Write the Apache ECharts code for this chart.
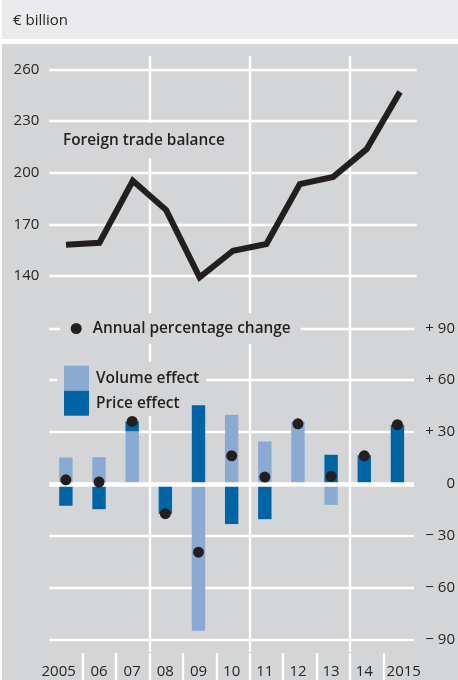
<!DOCTYPE html>
<html><head><meta charset="utf-8">
<script src="https://cdn.jsdelivr.net/npm/echarts@6/dist/echarts.min.js"></script>
<style>
html,body{margin:0;padding:0;background:#fff;}
#wrap{position:relative;width:458px;height:680px;overflow:hidden;}
#hdr{position:absolute;left:2px;top:0;width:456px;height:39px;background:#ebebed;}
#plot{position:absolute;left:2px;top:44px;width:456px;height:636px;background:#d4d5d7;}
#chart{position:absolute;left:0;top:0;width:458px;height:680px;}
</style></head>
<body><div id="wrap"><div id="hdr"></div><div id="plot"></div><div id="chart"></div></div>
<script>
// ---- data ----
const categories = ['2005','06','07','08','09','10','11','12','13','14','2015'];
const tradeBalance = [158.2, 159.3, 195.3, 178.3, 139.2, 154.7, 158.6, 193.4, 197.6, 213.7, 247.0];
const volumeEffect = [15.2, 15.4, 30.3, 0, -85.0, 40.0, 24.5, 36.1, -12.2, 0, 0];
const priceEffect = [-12.7, -14.7, 5.8, -17.5, 45.5, -23.3, -20.5, -1.4, 16.8, 16.5, 34.2];
const annualChange = [2.3, 1.0, 36.1, -17.3, -39.6, 16.2, 3.9, 34.7, 4.3, 16.2, 34.2];
const leftTicks = [140, 170, 200, 230, 260];
const rightTicks = [-90, -60, -30, 0, 30, 60, 90];

// ---- styling ----
const FONT = '"Open Sans", "Noto Sans", sans-serif';
const TXT = '#262626';
const DARK = '#231f20';
const BG = '#d4d5d7';
const GL = 49.3, GR = 41.3;
const GRIDLINE = {color: '#ffffff', width: 2.4};
const LEG_FONT = {fontSize: 15.4, fontWeight: 600, color: DARK, fontFamily: FONT};

const catData = categories.map((c, i) => {
  if (i === 0) return {value: c, textStyle: {padding: [0, 14.4, 0, 0]}};
  if (i === categories.length - 1) return {value: c, textStyle: {padding: [0, 0, 0, 12.6]}};
  return c;
});

const chart = echarts.init(document.getElementById('chart'), null, {renderer: 'canvas'});
const hidden = {axisLine: {show: false}, axisTick: {show: false}, axisLabel: {show: false}};

const option = {
  animation: false,
  backgroundColor: 'transparent',
  textStyle: {fontFamily: FONT},
  title: [
    {text: '€ billion', left: 13, top: 13, padding: 0,
     textStyle: {fontSize: 15, fontWeight: 'normal', color: TXT, fontFamily: FONT}},
    {text: 'Foreign trade balance', left: 55, top: 123, padding: [10, 8, 10, 8], backgroundColor: BG, z: 1,
     textStyle: LEG_FONT}
  ],
  legend: [
    {data: ['Annual percentage change'], left: 60, top: 313, padding: [8, 10, 8, 10.7], z: 1,
     backgroundColor: BG, icon: 'circle', itemWidth: 11, itemHeight: 11, selectedMode: false,
     textStyle: Object.assign({padding: [0, 0, 0, 6]}, LEG_FONT)},
    {data: ['Volume effect', 'Price effect'], orient: 'vertical', left: 57, top: 362, z: 1,
     padding: [3.7, 7, 0, 7], itemGap: 0, itemWidth: 25, itemHeight: 25, icon: 'rect',
     backgroundColor: BG, selectedMode: false,
     textStyle: Object.assign({padding: [0, 0, 0, 2]}, LEG_FONT)}
  ],
  grid: [
    {left: GL, right: GR, top: 69.5, height: 206.5},
    {left: GL, right: GR, top: 328.3, height: 311},
    {left: GL, right: GR, top: 56, height: 596},
    {left: GL, right: GR, top: 653, height: 27}
  ],
  xAxis: [
    Object.assign({type: 'category', gridIndex: 0, data: categories, splitLine: {show: false}}, hidden),
    {type: 'category', gridIndex: 1, data: catData, axisLine: {show: false}, axisTick: {show: false},
     splitLine: {show: false},
     axisLabel: {fontSize: 15, color: TXT, margin: 25, fontFamily: FONT, interval: 0}},
    Object.assign({type: 'value', gridIndex: 2, min: 0, max: 11, interval: 3,
     splitLine: {show: true, showMinLine: false, showMaxLine: false, lineStyle: GRIDLINE}}, hidden),
    Object.assign({type: 'value', gridIndex: 3, min: 0, max: 11, interval: 1,
     splitLine: {show: true, showMinLine: false, showMaxLine: false, lineStyle: GRIDLINE}}, hidden)
  ],
  yAxis: [
    {type: 'value', gridIndex: 0, position: 'left', min: leftTicks[0], max: leftTicks[leftTicks.length - 1], interval: 30,
     axisLine: {show: false}, axisTick: {show: false},
     axisLabel: {fontSize: 15, color: TXT, margin: 10, fontFamily: FONT},
     splitLine: {show: true, lineStyle: GRIDLINE}},
    {type: 'value', gridIndex: 1, position: 'right', min: rightTicks[0], max: rightTicks[rightTicks.length - 1], interval: 30,
     axisLine: {show: false}, axisTick: {show: false},
     axisLabel: {fontSize: 15, color: TXT, margin: 41, align: 'right', fontFamily: FONT,
       formatter: v => v > 0 ? '+ ' + v : (v < 0 ? '\u2212 ' + (-v) : '0')},
     splitLine: {show: true, lineStyle: GRIDLINE}},
    Object.assign({type: 'value', gridIndex: 2, min: 0, max: 1, splitLine: {show: false}}, hidden),
    Object.assign({type: 'value', gridIndex: 3, min: 0, max: 1, splitLine: {show: false}}, hidden)
  ],
  series: [
    {name: 'Foreign trade balance', type: 'line', xAxisIndex: 0, yAxisIndex: 0, data: tradeBalance,
     symbol: 'none', clip: false, z: 3,
     lineStyle: {color: DARK, width: 6, join: 'miter', cap: 'butt'}},
    {name: 'Volume effect', type: 'bar', xAxisIndex: 1, yAxisIndex: 1, stack: 'eff', stackStrategy: 'samesign',
     data: volumeEffect, barWidth: 13.4, z: 2, itemStyle: {color: '#8aaad2'}},
    {name: 'Price effect', type: 'bar', xAxisIndex: 1, yAxisIndex: 1, stack: 'eff', stackStrategy: 'samesign',
     data: priceEffect, barWidth: 13.4, z: 2, itemStyle: {color: '#0065a5'},
     markLine: {silent: true, symbol: 'none', z: 5, label: {show: false},
       lineStyle: {color: '#ffffff', width: 4.5, type: 'solid'}, data: [{yAxis: 0}]}},
    {name: 'Annual percentage change', type: 'scatter', xAxisIndex: 1, yAxisIndex: 1, data: annualChange,
     symbol: 'circle', symbolSize: 11, z: 10, itemStyle: {color: DARK, opacity: 1}}
  ]
};
chart.setOption(option);
</script>
</body></html>
